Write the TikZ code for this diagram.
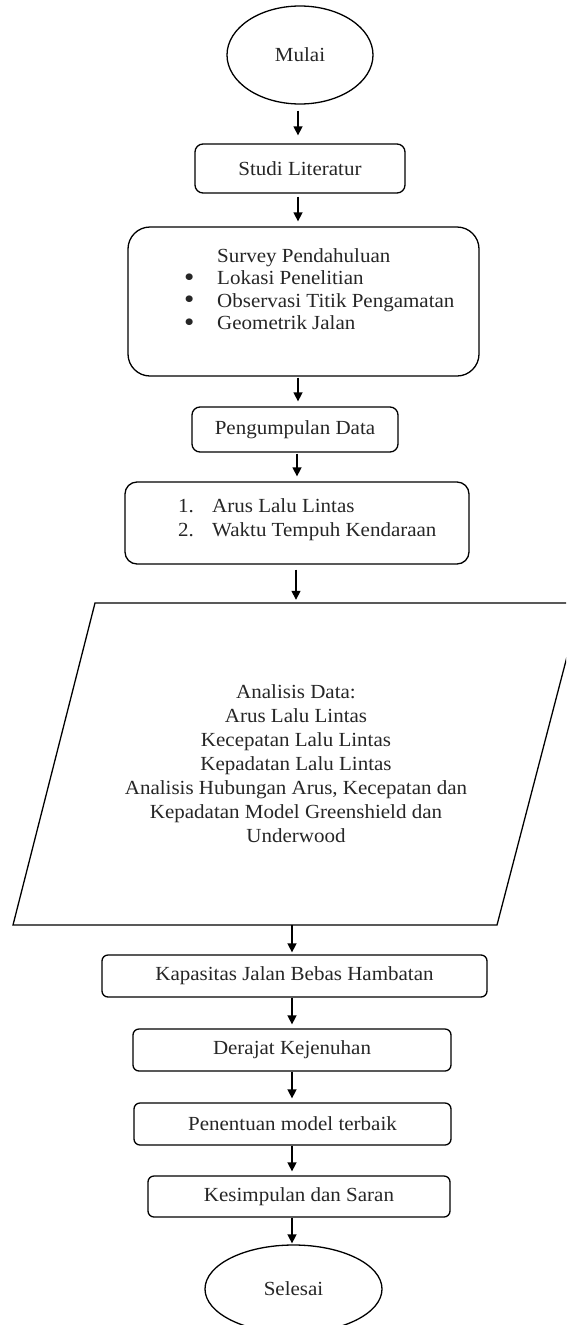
\documentclass[tikz,border=0pt]{standalone}
\usepackage{fontspec}
\setmainfont{Liberation Serif}[FakeStretch=1.05]
\usetikzlibrary{arrows.meta,shapes.geometric,calc}
\newcommand{\bigdot}{\smash{\raisebox{-1.8pt}{\scalebox{1.4}{\textbullet}}}}
\begin{document}
\begin{tikzpicture}[x=1pt,y=-1pt,
  every node/.style={font=\fontsize{20}{24}\selectfont, inner sep=0pt, text=black!85},
  box/.style={draw=black, line width=1.3pt, rounded corners=#1},
  box/.default=6pt,
  oval/.style={draw=black, ellipse, line width=1.3pt, inner sep=0pt},
  arr/.style={-{Triangle[length=9pt,width=9pt]}, line width=1.5pt},
  shape line/.style={draw=black, line width=1.3pt, line join=miter}
]
\useasboundingbox (0,0) rectangle (566,1325);
\clip (0,0) rectangle (566,1325);

% nodes
\node[oval, minimum width=146pt, minimum height=98pt] (mulai) at (300,55) {Mulai};
\node[box=8pt, minimum width=210pt, minimum height=49pt] (studi) at (300,168.5) {Studi Literatur};
\node[box=22pt, minimum width=351pt, minimum height=149pt] (survey) at (303.5,301.5) {};
\node[anchor=base west] (surveytxt) at (184,262) {\fontsize{20}{22.5}\selectfont
  \begin{tabular}[t]{@{}p{33pt}@{}l@{}}
   & Survey Pendahuluan\\
  \bigdot & Lokasi Penelitian\\
  \bigdot & Observasi Titik Pengamatan\\
  \bigdot & Geometrik Jalan
  \end{tabular}};
\node[box=8pt, minimum width=206pt, minimum height=45pt] (kumpul) at (295,429.5) {Pengumpulan Data};
\node[box=12pt, minimum width=344pt, minimum height=82pt] (data) at (297,523) {};
\node[anchor=base west] (datatxt) at (178,512) {\fontsize{20}{24}\selectfont
  \begin{tabular}[t]{@{}p{34pt}@{}l@{}}
  1. & Arus Lalu Lintas\\
  2. & Waktu Tempuh Kendaraan
  \end{tabular}};
\node[align=center, minimum height=322pt] (analisis) at (296,764) {Analisis Data:\\Arus Lalu Lintas\\Kecepatan Lalu Lintas\\Kepadatan Lalu Lintas\\Analisis Hubungan Arus, Kecepatan dan\\Kepadatan Model Greenshield dan\\Underwood};
\draw[shape line] (95,603) -- (581,603) -- (497,925) -- (13,925) -- cycle;
\node[box, minimum width=385pt, minimum height=42pt] (kapasitas) at (294.5,976) {Kapasitas Jalan Bebas Hambatan};
\node[box, minimum width=318pt, minimum height=42pt] (derajat) at (292,1050) {Derajat Kejenuhan};
\node[box, minimum width=317pt, minimum height=42pt] (penentuan) at (292.5,1124) {Penentuan model terbaik};
\node[box, minimum width=302pt, minimum height=41pt] (kesimpulan) at (299,1196.5) {Kesimpulan dan Saran};
\node[oval, minimum width=177pt, minimum height=88pt] (selesai) at (293.5,1289) {Selesai};

% connectors
\draw[arr, shorten <=6pt, shorten >=8pt] ([xshift=-2pt]mulai.south) -- ([xshift=-2pt]studi.north);
\draw[arr, shorten <=3pt, shorten >=5pt] ([xshift=-2pt]studi.south) -- ($(studi.south |- survey.north)+(-2,0)$);
\draw[arr, shorten <=1pt, shorten >=5pt] ($(studi.south |- survey.south)+(-2,0)$) -- ($(studi.south |- kumpul.north)+(-2,0)$);
\draw[arr, shorten <=1pt, shorten >=5pt] (kumpul.south -| data.north) -- (data.north);
\draw[arr, shorten <=5pt, shorten >=3pt] (data.south -| analisis.north) -- (analisis.north);
\draw[arr, shorten >=2pt] (analisis.south -| derajat.north) -- (kapasitas.north -| derajat.north);
\draw[arr, shorten >=4pt] (kapasitas.south -| derajat.north) -- (derajat.north);
\draw[arr, shorten >=4pt] (derajat.south) -- (penentuan.north -| derajat.south);
\draw[arr, shorten >=4pt] (penentuan.south -| derajat.south) -- (kesimpulan.north -| derajat.south);
\draw[arr, shorten >=1pt] (kesimpulan.south -| derajat.south) -- (selesai.north -| derajat.south);
\end{tikzpicture}
\end{document}
